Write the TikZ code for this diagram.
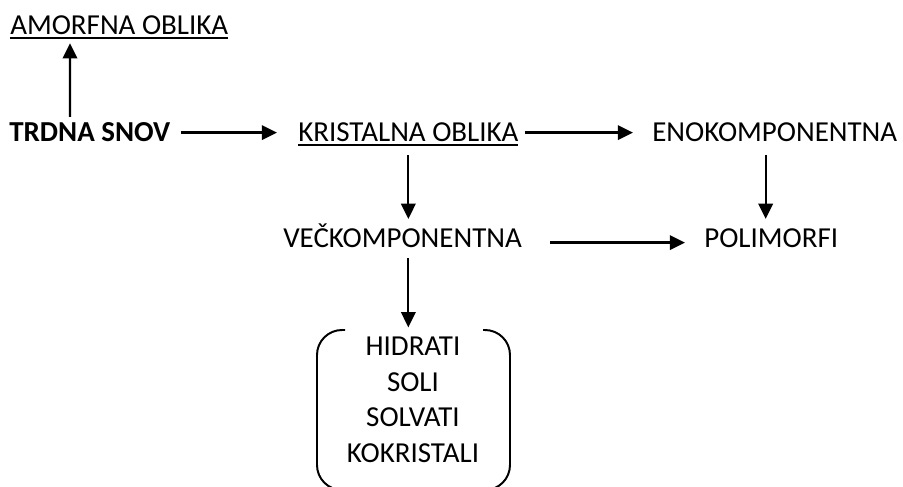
\documentclass[tikz,border=0pt]{standalone}
\usepackage{fontspec}
\setmainfont{Carlito}
\usetikzlibrary{arrows.meta}
\newcommand{\undl}[1]{\setbox0\hbox{#1}\rlap{\rule[-0.105cm]{\wd0}{0.06cm}}\box0}
\begin{document}
\begin{tikzpicture}[
  lbl/.style={inner sep=0pt, anchor=base west, text height=0.47cm, text depth=0pt},
  arr/.style={-{Triangle[length=0.38cm, width=0.36cm]}, line width=1.6pt},
  font=\fontsize{20.6}{25.3}\selectfont]

\useasboundingbox (0, 0) rectangle (22.575, 12.15);

% solid matter and its two forms
\node[lbl] at ( 0.225, 8.6) (trdna) {\bfseries TRDNA SNOV};
\node[lbl] at ( 0.25, 11.275) (amorf) {\undl{AMORFNA OBLIKA}};
\node[lbl] at ( 7.45,  8.6) (kristal) {\undl{KRISTALNA OBLIKA}};

% one or more components
\node[lbl] at (16.3,   8.6) (eno) {ENOKOMPONENTNA};
\node[lbl] at ( 7.075, 5.95) (vec) {VEČKOMPONENTNA};
\node[lbl] at (17.6,   5.95) (poli) {POLIMORFI};

% kinds of multicomponent crystals
\node[inner sep=0pt, align=center] at (10.325, 2.15) (types)
  {HIDRATI\\ SOLI\hspace*{0.5cm}\\ SOLVATI\hspace*{0.25cm}\\ KOKRISTALI};

% brackets round the list
\draw[line width=1.4pt] (8.625, 3.9) -- (8.55, 3.9) arc[start angle=90, end angle=180, radius=0.625]
  -- (7.925, 0.525) arc[start angle=180, end angle=270, radius=0.625] -- (8.625, -0.1);
\draw[line width=1.4pt] (12.075, 3.9) -- (12.125, 3.9) arc[start angle=90, end angle=0, radius=0.625]
  -- (12.75, 0.525) arc[start angle=0, end angle=-90, radius=0.625] -- (12.075, -0.1);

% arrows
\draw[arr, shorten <=0.15cm, shorten >=0.2cm] ([xshift=1.525cm]trdna.north west) -- ([xshift=1.5cm]amorf.south west);
\draw[arr, shorten <=0.25cm, shorten >=0.525cm] (trdna.east) -- (kristal.west);
\draw[arr, shorten <=0.15cm, shorten >=0.475cm] (kristal.east) -- (eno.west);
\draw[arr, shorten <=0.325cm, shorten >=0.25cm] (kristal.south) -- (kristal.south |- vec.north);
\draw[arr, shorten <=0.325cm, shorten >=0.25cm] ([xshift=-0.225cm]eno.south) -- ([xshift=-0.225cm]eno.south |- poli.north);
\draw[arr, shorten <=0.7cm, shorten >=0.475cm] ([yshift=-0.1cm]vec.east) -- ([yshift=-0.1cm]poli.west);
\draw[arr, shorten <=0.25cm, shorten >=0.24cm] (kristal.south |- vec.south) -- (kristal.south |- types.north);

\end{tikzpicture}
\end{document}
